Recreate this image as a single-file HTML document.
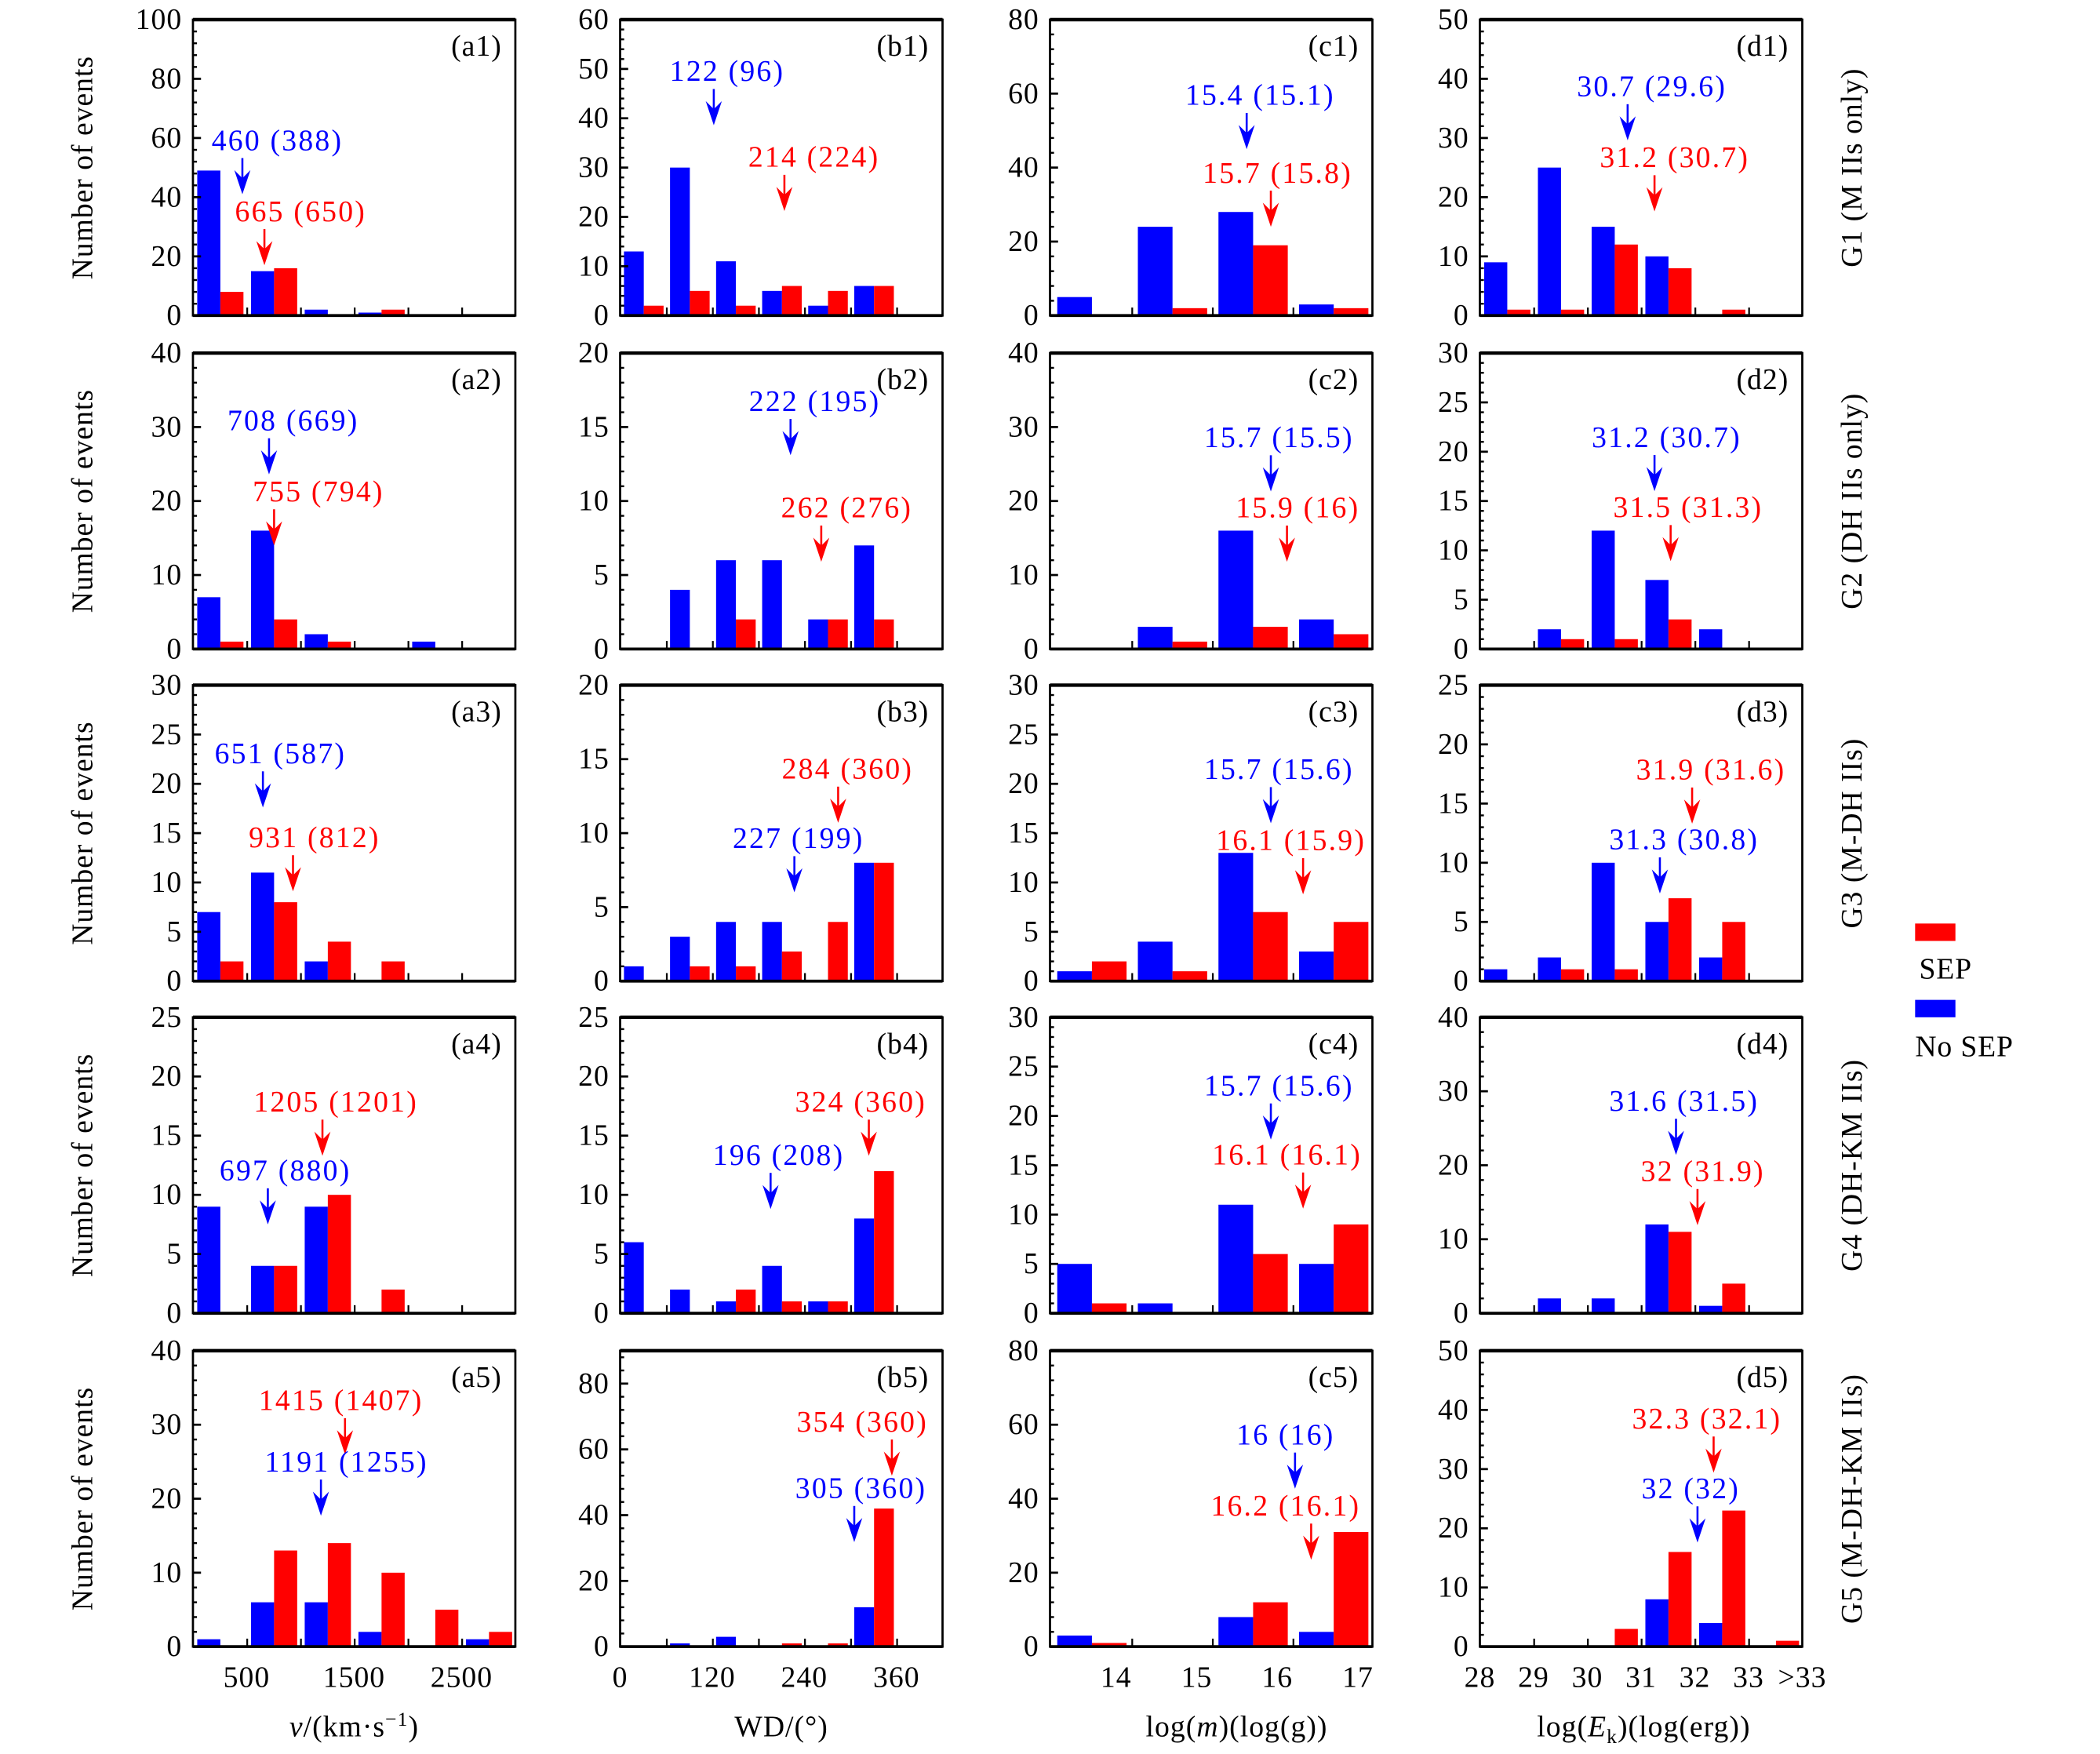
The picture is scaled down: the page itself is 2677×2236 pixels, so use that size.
<!DOCTYPE html>
<html><head><meta charset="utf-8">
<style>
html,body{margin:0;padding:0;background:#fff;}
svg{display:block;}
text{font-family:"Liberation Serif",serif;}
</style></head>
<body>
<svg id="fig" width="2677" height="2236" viewBox="0 0 1552 1296.3" preserveAspectRatio="none" xmlns="http://www.w3.org/2000/svg">
<rect x="0" y="0" width="1552" height="1297" fill="#fff"/>
<g id="root" transform="translate(-1.36,-0.35) scale(0.9928,0.9897)">
<g id="legend">
  <rect x="1427" y="690" width="30" height="13" fill="#ff0000"/>
  <text x="1430" y="731" font-size="22" letter-spacing="0.5">SEP</text>
  <rect x="1427" y="747" width="30" height="13" fill="#0000ff"/>
  <text x="1427" y="789" font-size="22" letter-spacing="0.5">No SEP</text>
</g>
</g>
</svg>
<script>
// ---- data ----
const a1Blue=[49,15,2,1,0,0]; const a1Red=[8,16,0,2,0,0];
const a2Blue=[7,16,2,0,1,0];  const a2Red=[1,4,1,0,0,0];
const a3Blue=[7,11,2,0,0,0];  const a3Red=[2,8,4,2,0,0];
const a4Blue=[9,4,9,0,0,0];   const a4Red=[0,4,10,2,0,0];
const a5Blue=[1,6,6,2,0,1];   const a5Red=[0,13,14,10,5,2];
const b1Blue=[13,30,11,5,2,6,0]; const b1Red=[2,5,2,6,5,6,0];
const b2Blue=[0,4,6,6,2,7,0];    const b2Red=[0,0,2,0,2,2,0];
const b3Blue=[1,3,4,4,0,8,0];    const b3Red=[0,1,1,2,4,8,0];
const b4Blue=[6,2,1,4,1,8,0];    const b4Red=[0,0,2,1,1,12,0];
const b5Blue=[0,1,3,0,0,12,0];   const b5Red=[0,0,0,1,1,42,0];
const c1Blue=[5,24,28,3]; const c1Red=[0,2,19,2];
const c2Blue=[0,3,16,4];  const c2Red=[0,1,3,2];
const c3Blue=[1,4,13,3];  const c3Red=[2,1,7,6];
const c4Blue=[5,1,11,5];  const c4Red=[1,0,6,9];
const c5Blue=[3,0,8,4];   const c5Red=[1,0,12,31];
const d1Blue=[9,25,15,10,0,0]; const d1Red=[1,1,12,8,1,0];
const d2Blue=[0,2,12,7,2,0];   const d2Red=[0,1,1,3,0,0];
const d3Blue=[1,2,10,5,2,0];   const d3Red=[0,1,1,7,5,0];
const d4Blue=[0,2,2,12,1,0];   const d4Red=[0,0,0,11,4,0];
const d5Blue=[0,0,0,8,4,0];    const d5Red=[0,0,3,16,23,1];
const yMaxes=[[100,60,80,50],[40,20,40,30],[30,20,30,25],[25,25,30,40],[40,90,80,50]];
const yMajors=[[20,10,20,10],[10,5,10,5],[5,5,5,5],[5,5,5,10],[10,20,20,10]];
const xTickValsA=[500,1500,2500]; const xTickLabA=["500","1500","2500"];
const xTickValsB=[0,120,240,360]; const xTickLabB=["0","120","240","360"];
const xTickValsC=[14,15,16,17];   const xTickLabC=["14","15","16","17"];
const xTickValsD=[28,29,30,31,32,33,34]; const xTickLabD=["28","29","30","31","32","33",">33"];
// annotations: [column,row,color,arrowValue,tipY,label,labelOffset]
const annValues=[
 [0,0,'b',460,41,"460 (388)",26],[0,0,'r',665,17,"665 (650)",27],
 [1,0,'b',122,38.6,"122 (96)",10],[1,0,'r',214,21.2,"214 (224)",22],
 [2,0,'b',15.4,45,"15.4 (15.1)",10],[2,0,'r',15.7,24,"15.7 (15.8)",5],
 [3,0,'b',30.7,29.6,"30.7 (29.6)",18],[3,0,'r',31.2,17.6,"31.2 (30.7)",15],
 [0,1,'b',708,23.6,"708 (669)",18],[0,1,'r',755,14,"755 (794)",33],
 [1,1,'b',222,13.1,"222 (195)",18],[1,1,'r',262,5.9,"262 (276)",19],
 [2,1,'b',15.7,21.3,"15.7 (15.5)",6],[2,1,'r',15.9,11.8,"15.9 (16)",8],
 [3,1,'b',31.2,16,"31.2 (30.7)",9],[3,1,'r',31.5,8.9,"31.5 (31.3)",13],
 [0,2,'b',651,17.6,"651 (587)",13],[0,2,'r',931,9.1,"931 (812)",16],
 [1,2,'r',284,10.7,"284 (360)",7],[1,2,'b',227,6.0,"227 (199)",3],
 [2,2,'b',15.7,16,"15.7 (15.6)",6],[2,2,'r',16.1,8.8,"16.1 (15.9)",-9],
 [3,2,'r',31.9,13.3,"31.9 (31.6)",14],[3,2,'b',31.3,7.4,"31.3 (30.8)",18],
 [0,3,'r',1205,13.3,"1205 (1201)",10],[0,3,'b',697,7.5,"697 (880)",13],
 [1,3,'r',324,13.3,"324 (360)",-6],[1,3,'b',196,8.8,"196 (208)",6],
 [2,3,'b',15.7,17.6,"15.7 (15.6)",6],[2,3,'r',16.1,10.6,"16.1 (16.1)",-12],
 [3,3,'b',31.6,21.4,"31.6 (31.5)",6],[3,3,'r',32,11.9,"32 (31.9)",4],
 [0,4,'r',1415,26,"1415 (1407)",-3],[0,4,'b',1191,17.7,"1191 (1255)",19],
 [1,4,'r',354,52,"354 (360)",-22],[1,4,'b',305,31.8,"305 (360)",5],
 [2,4,'b',16,42.7,"16 (16)",-7],[2,4,'r',16.2,23.5,"16.2 (16.1)",-19],
 [3,4,'r',32.3,29.4,"32.3 (32.1)",-5],[3,4,'b',32,17.6,"32 (32)",-5]
];
const rowLabels=["G1 (M IIs only)","G2 (DH IIs only)","G3 (M-DH IIs)","G4 (DH-KM IIs)","G5 (M-DH-KM IIs)"];

// ---- layout ----
const NS="http://www.w3.org/2000/svg";
const svg=document.getElementById('root');
const colLeft=[145,463,783,1103], W=240;
const rowTop=[15,264,512,760,1009], H=221;
const cols=[
 {id:'a',xmin:0,xmax:3000,start:40,bw:500,nb:6,shift:0,tv:xTickValsA,tl:xTickLabA},
 {id:'b',xmin:0,xmax:420,start:5,bw:60,nb:7,shift:0,tv:xTickValsB,tl:xTickLabB},
 {id:'c',xmin:13.18,xmax:17.18,start:13.27,bw:1,nb:4,shift:0.22,tv:xTickValsC,tl:xTickLabC},
 {id:'d',xmin:28,xmax:34,start:28.08,bw:1,nb:6,shift:0.05,tv:xTickValsD,tl:xTickLabD}
];
const dataMap={a1:[a1Blue,a1Red],a2:[a2Blue,a2Red],a3:[a3Blue,a3Red],a4:[a4Blue,a4Red],a5:[a5Blue,a5Red],
b1:[b1Blue,b1Red],b2:[b2Blue,b2Red],b3:[b3Blue,b3Red],b4:[b4Blue,b4Red],b5:[b5Blue,b5Red],
c1:[c1Blue,c1Red],c2:[c2Blue,c2Red],c3:[c3Blue,c3Red],c4:[c4Blue,c4Red],c5:[c5Blue,c5Red],
d1:[d1Blue,d1Red],d2:[d2Blue,d2Red],d3:[d3Blue,d3Red],d4:[d4Blue,d4Red],d5:[d5Blue,d5Red]};
function mk(tag,attrs,parent){const e=document.createElementNS(NS,tag);for(const k in attrs)e.setAttribute(k,attrs[k]);(parent||svg).appendChild(e);return e;}
const BLUE='#0000ff', RED='#ff0000';
const FS=22, LS=0.6;

for(let r=0;r<5;r++){
 for(let c=0;c<4;c++){
  const col=cols[c], L=colLeft[c], T=rowTop[r], B=T+H;
  const ymax=yMaxes[r][c], maj=yMajors[r][c];
  const xs=v=>L+(v-col.xmin)/(col.xmax-col.xmin)*W;
  const ys=v=>B-v/ymax*H;
  const key=col.id+(r+1);
  const g=mk('g',{});
  
  
  const [blue,red]=dataMap[key];
  for(let i=0;i<col.nb;i++){
    const s=col.start+i*col.bw, w=0.43*col.bw;
    const bb=mk('rect',{x:xs(s),y:ys(blue[i]),width:xs(s+w)-xs(s),height:B-ys(blue[i]),fill:BLUE},g);
    
    
    const rb=mk('rect',{x:xs(s+w),y:ys(red[i]),width:xs(s+2*w)-xs(s+w),height:B-ys(red[i]),fill:RED},g);
    
    
    const tx=xs(s+col.bw*0.93);
    if(i<col.nb-1) mk('line',{x1:tx,x2:tx,y1:B,y2:B-6,stroke:'#000','stroke-width':1.3},g);
  }
  const minor=maj/5;
  for(let v=0;v<=ymax+1e-9;v+=minor){
    const isMaj=Math.abs(v/maj-Math.round(v/maj))<1e-6;
    const y=ys(v);
    mk('line',{x1:L,x2:L+(isMaj?6:3),y1:y,y2:y,stroke:'#000','stroke-width':isMaj?1.6:1.4},g);
    if(isMaj){
      const t=mk('text',{x:L-8,y:y+7,'font-size':FS,'letter-spacing':LS,'text-anchor':'end'},g);
      t.textContent=String(Math.round(v));
      
      
    }
  }
  const fr=mk('rect',{x:L,y:T,width:W,height:H,fill:'none',stroke:'#000','stroke-width':1.6},g);
  
  
  mk('line',{x1:L,x2:L+W,y1:T,y2:T,stroke:'#000','stroke-width':2.6},g);
  mk('line',{x1:L,x2:L+W,y1:B,y2:B,stroke:'#000','stroke-width':2.2},g);
  const pl=mk('text',{x:L+W-10,y:T+27,'font-size':FS,'letter-spacing':LS,'text-anchor':'end'},g);
  pl.textContent='('+key+')';
  
  
  if(r===4){
    for(let i=0;i<col.tv.length;i++){
      const t=mk('text',{x:xs(col.tv[i]),y:B+30,'font-size':FS,'letter-spacing':LS,'text-anchor':'middle'},g);
      t.textContent=col.tl[i];
      
      
    }
  }
  if(c===0){
    const yc=(T+B)/2;
    const t=mk('text',{x:0,y:0,'font-size':FS,'letter-spacing':LS,'text-anchor':'middle',transform:`translate(70,${yc}) rotate(-90)`},g);
    t.textContent='Number of events';
    
    
  }
  if(c===3){
    const yc=(T+B)/2;
    const t=mk('text',{x:0,y:0,'font-size':FS,'letter-spacing':LS,'text-anchor':'middle',transform:`translate(1387,${yc}) rotate(-90)`},g);
    t.textContent=rowLabels[r];
    
    
  }
  annValues.filter(a=>a[0]===c&&a[1]===r).forEach(a=>{
    const color=a[2]==='b'?BLUE:RED;
    const x=xs(a[3]+col.shift), tip=ys(a[4]);
    const ag=mk('g',{},g);
    
    
    mk('line',{x1:x,x2:x,y1:tip-27,y2:tip-8,stroke:color,'stroke-width':1.5},ag);
    mk('polygon',{points:`${x},${tip} ${x-6},${tip-18} ${x},${tip-12} ${x+6},${tip-18}`,fill:color},ag);
    const t=mk('text',{x:x+a[6],y:tip-33,'font-size':FS,'letter-spacing':1.3,'text-anchor':'middle',fill:color},ag);
    t.textContent=a[5];
    
    
  });
 }
}
(function(){
 let t=mk('text',{x:265,y:1297,'font-size':FS,'letter-spacing':LS,'text-anchor':'middle'});
 
 
 t.innerHTML='<tspan font-style="italic">v</tspan>/(km·s<tspan dy="-8" font-size="15">−1</tspan><tspan dy="8">)</tspan>';
 t=mk('text',{x:583,y:1297,'font-size':FS,'letter-spacing':LS,'text-anchor':'middle'});
 
 
 t.textContent='WD/(°)';
 t=mk('text',{x:922,y:1297,'font-size':FS,'letter-spacing':LS,'text-anchor':'middle'});
 
 
 t.innerHTML='log(<tspan font-style="italic">m</tspan>)(log(g))';
 t=mk('text',{x:1225,y:1297,'font-size':FS,'letter-spacing':LS,'text-anchor':'middle'});
 
 
 t.innerHTML='log(<tspan font-style="italic">E</tspan><tspan dy="5" font-size="15">k</tspan><tspan dy="-5">)(log(erg))</tspan>';
})();
svg.appendChild(document.getElementById('legend'));
</script>
</body></html>
